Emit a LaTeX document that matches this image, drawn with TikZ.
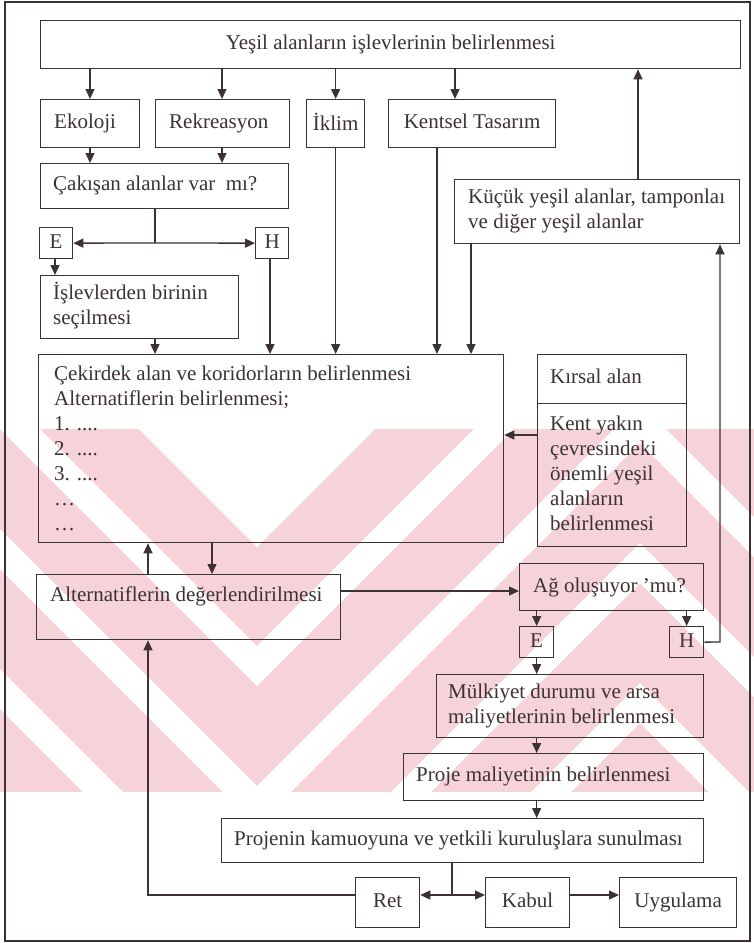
\documentclass[tikz,border=0pt]{standalone}
\usepackage{fontspec}
\setmainfont{Liberation Serif}
\usetikzlibrary{arrows.meta}
\definecolor{ink}{RGB}{60,50,52}
\definecolor{wm}{RGB}{246,211,216}
\newcommand{\lnst}{\rule[-4pt]{0pt}{17pt}}
\begin{document}
\begin{tikzpicture}[x=1pt,y=-1pt,
  font=\fontsize{21}{25}\selectfont,
  box/.style={draw=ink, line width=1.3pt, inner sep=0pt, anchor=north west},
  lbl/.style={anchor=west, inner sep=0pt, align=left, text=ink},
  clbl/.style={anchor=center, inner sep=0pt, align=center, text=ink},
  arr/.style={draw=ink, line width=1.3pt, -{Triangle[length=10pt,width=9pt]}},
  ln/.style={draw=ink, line width=1.3pt}
]
\useasboundingbox (0,0) rectangle (754,943);
\fill[white] (0,0) rectangle (754,943);

% faint background band of chevron stripes
\begin{scope}
  \clip (0,429) rectangle (754,792);
  \fill[wm] (0,429) rectangle (754,792);
  \fill[white] (-200,90) -- (257,547) -- (640,164) -- (1100,624) -- (1100,0) -- (-200,0) -- cycle;
  \foreach \c in {646,786,926,1066,1206,1346} {
    \fill[white] (-200,\c-457) -- (257,\c) -- (640,\c-383) -- (1100,\c+77) --
                 (1100,\c+117) -- (640,\c-343) -- (257,\c+40) -- (-200,\c-417) -- cycle;
  }
\end{scope}

% outer frame
\draw[ink, line width=1.4pt] (5,2) rectangle (750,941);

% boxes
\node[box, minimum width=700pt, minimum height=48pt] (top) at (40,20) {};
\node[box, minimum width=99pt,  minimum height=48pt] (eko) at (40,99) {};
\node[box, minimum width=134pt, minimum height=48pt] (rek) at (155,99) {};
\node[box, minimum width=58pt,  minimum height=48pt] (ikl) at (306,99) {};
\node[box, minimum width=167pt, minimum height=48pt] (ken) at (388,99) {};
\node[box, minimum width=248pt, minimum height=45pt] (cak) at (40,163) {};
\node[box, minimum width=33pt,  minimum height=31pt] (e1) at (39,227) {};
\node[box, minimum width=33pt,  minimum height=31pt] (h1) at (255,227) {};
\node[box, minimum width=198pt, minimum height=63pt] (isl) at (40,275) {};
\node[box, minimum width=285pt, minimum height=64pt] (kuc) at (454,179) {};
\node[box, minimum width=465pt, minimum height=188pt] (cek) at (38,354) {};
\node[box, minimum width=149pt, minimum height=49pt] (kir) at (537,354) {};
\node[box, minimum width=149pt, minimum height=143pt] (kya) at (537,403) {};
\node[box, minimum width=304pt, minimum height=65pt] (alt) at (36,574) {};
\node[box, minimum width=184pt, minimum height=47pt] (ag) at (519,563) {};
\node[box, minimum width=34pt,  minimum height=31pt] (e2) at (519,626) {};
\node[box, minimum width=34pt,  minimum height=31pt] (h2) at (669,626) {};
\node[box, minimum width=267pt, minimum height=63pt] (mul) at (436,674) {};
\node[box, minimum width=300pt, minimum height=47pt] (pro) at (403,753) {};
\node[box, minimum width=482pt, minimum height=44pt] (kam) at (221,818) {};
\node[box, minimum width=64pt,  minimum height=50pt] (ret) at (355,877) {};
\node[box, minimum width=84pt,  minimum height=50pt] (kab) at (485,877) {};
\node[box, minimum width=117pt, minimum height=50pt] (uyg) at (619,877) {};

% texts
\node[clbl] (t-top) at (top.center) {\lnst Yeşil alanların işlevlerinin belirlenmesi};
\node[lbl] (t-eko) at (54,123) {\lnst Ekoloji};
\node[lbl] (t-rek) at (169,123) {\lnst Rekreasyon};
\node[clbl] (t-ikl) at (ikl.center) {\lnst İklim};
\node[clbl] (t-ken) at (ken.center) {\lnst Kentsel Tasarım};
\node[lbl] (t-cak) at (53,185) {\lnst Çakışan alanlar var \ mı?};
\node[clbl] (t-e1) at (e1.center) {\lnst E};
\node[clbl] (t-h1) at (h1.center) {\lnst H};
\node[lbl] (t-isl) at (53,306) {\lnst İşlevlerden birinin\\\lnst seçilmesi};
\node[lbl] (t-kuc) at (468,211) {\lnst Küçük yeşil alanlar, tamponlaı\\\lnst ve diğer yeşil alanlar};
\node[lbl] (t-cek) at (54,450) {\lnst Çekirdek alan ve koridorların belirlenmesi\\
  \lnst Alternatiflerin belirlenmesi;\\\lnst 1. ....\\\lnst 2. ....\\\lnst 3. ....\\\lnst …\\\lnst …};
\node[lbl] (t-kir) at (550,378) {\lnst Kırsal alan};
\node[lbl] (t-kya) at (550,475) {\lnst Kent yakın\\\lnst çevresindeki\\\lnst önemli yeşil\\\lnst alanların\\\lnst belirlenmesi};
\node[lbl] (t-alt) at (50,596) {\lnst Alternatiflerin değerlendirilmesi};
\node[lbl] (t-ag) at (533,587) {\lnst Ağ oluşuyor 'mu?};
\node[clbl] (t-e2) at (e2.center) {\lnst E};
\node[clbl] (t-h2) at (h2.center) {\lnst H};
\node[lbl] (t-mul) at (448,706) {\lnst Mülkiyet durumu ve arsa\\\lnst maliyetlerinin belirlenmesi};
\node[lbl] (t-pro) at (416,776) {\lnst Proje maliyetinin belirlenmesi};
\node[lbl] (t-kam) at (234,840) {\lnst Projenin kamuoyuna ve yetkili kuruluşlara sunulması};
\node[clbl] (t-ret) at (ret.center) {\lnst Ret};
\node[clbl] (t-kab) at (kab.center) {\lnst Kabul};
\node[clbl] (t-uyg) at (uyg.center) {\lnst Uygulama};

% branching points and bends
\coordinate (j1) at (155,243);
\coordinate (j2) at (452,895);
\coordinate (hb) at (720,642);
\coordinate (rb) at (148,895);

% connectors
\draw[arr] (top.south -| 90,0)  -- (eko.north -| 90,0);
\draw[arr] (top.south -| 222,0) -- (rek.north -| 222,0);
\draw[arr] (top.south -| ikl.north) -- (ikl.north);
\draw[arr] (top.south -| 455,0) -- (ken.north -| 455,0);
\draw[arr] (eko.south -| 90,0) -- (cak.north -| 90,0);
\draw[arr] (rek.south -| 222,0) -- (cak.north -| 222,0);
\draw[ln] (cak.south -| j1) -- (j1);
\draw[arr] (j1) -- (e1.east);
\draw[arr] (j1) -- (h1.west);
\draw[arr] (e1.south -| 55,0) -- (isl.north -| 55,0);
\draw[arr] (isl.south -| 155,0) -- (cek.north -| 155,0);
\draw[arr] (h1.south -| 270,0) -- (cek.north -| 270,0);
\draw[arr] (ikl.south) -- (cek.north -| ikl.south);
\draw[arr] (ken.south -| 437,0) -- (cek.north -| 437,0);
\draw[arr] (kuc.south -| 471,0) -- (cek.north -| 471,0);
\draw[arr] (kuc.north -| 638,0) -- (top.south -| 638,0);
\draw[arr] (kya.west |- 0,435) -- (cek.east |- 0,435);
\draw[arr] (alt.north -| 148,0) -- (cek.south -| 148,0);
\draw[arr] (cek.south -| 212,0) -- (alt.north -| 212,0);
\draw[arr] (alt.east |- 0,591) -- (ag.west |- 0,591);
\draw[arr] (ag.south -| e2) -- (e2.north);
\draw[arr] (ag.south -| h2) -- (h2.north);
\draw[arr] (h2.east) -- (hb) -- (kuc.south -| hb);
\draw[arr] (e2.south) -- (mul.north -| e2);
\draw[arr] (mul.south -| e2) -- (pro.north -| e2);
\draw[arr] (pro.south -| e2) -- (kam.north -| e2);
\draw[ln] (kam.south -| j2) -- (j2);
\draw[arr] (j2) -- (ret.east |- j2);
\draw[arr] (j2) -- (kab.west |- j2);
\draw[arr] (kab.east |- j2) -- (uyg.west |- j2);
\draw[arr] (ret.west |- rb) -- (rb) -- (alt.south -| rb);
\end{tikzpicture}
\end{document}
